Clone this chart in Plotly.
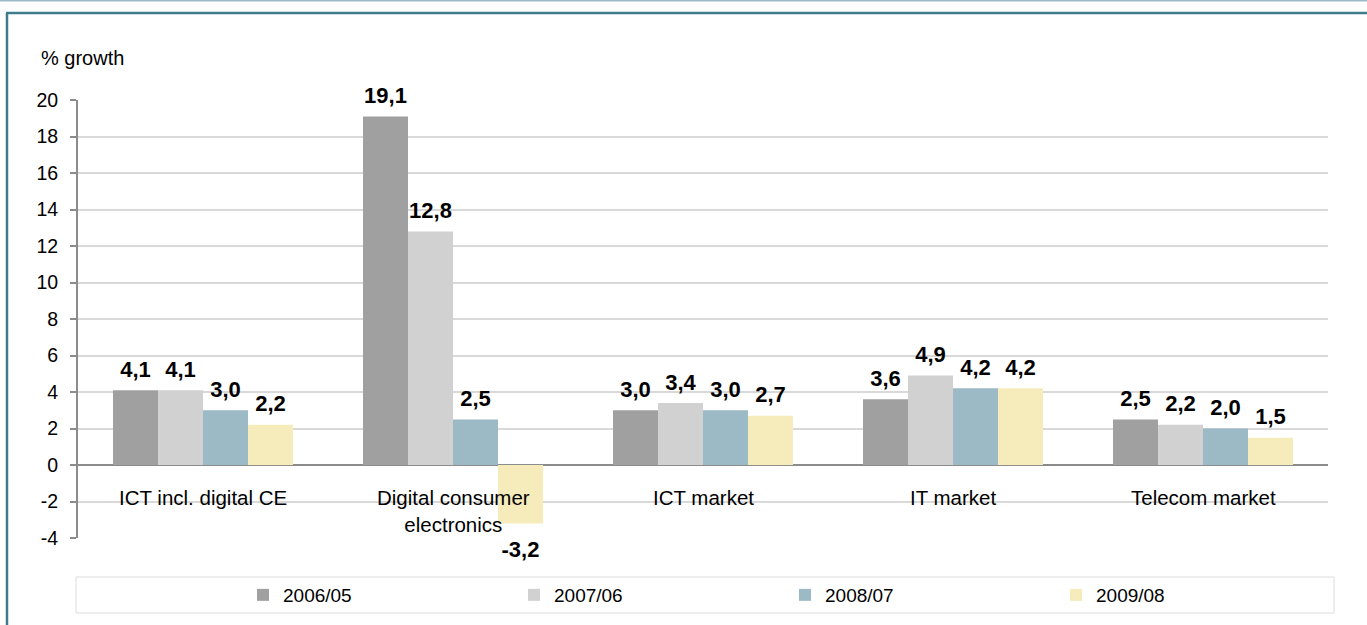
import plotly.graph_objects as go

categories = ["ICT incl. digital CE", "Digital consumer<br>electronics", "ICT market", "IT market", "Telecom market"]
series_names = ["2006/05", "2007/06", "2008/07", "2009/08"]
v_2006_05 = [4.1, 19.1, 3.0, 3.6, 2.5]
v_2007_06 = [4.1, 12.8, 3.4, 4.9, 2.2]
v_2008_07 = [3.0, 2.5, 3.0, 4.2, 2.0]
v_2009_08 = [2.2, -3.2, 2.7, 4.2, 1.5]
y_ticks = [-4, -2, 0, 2, 4, 6, 8, 10, 12, 14, 16, 18, 20]

colors = ["#A0A0A0", "#D1D1D1", "#9CBAC5", "#F5EBBB"]
series_values = [v_2006_05, v_2007_06, v_2008_07, v_2009_08]
FONT = "Liberation Sans, Arial, sans-serif"

W, H = 1367, 625
ML, MR, MT, MB = 78, 39, 100, 87
PW, PH = W - ML - MR, H - MT - MB


def px(x):
    return (x - ML) / PW


def py(y):
    return (H - MB - y) / PH


fig = go.Figure()
for name, vals, col in zip(series_names, series_values, colors):
    fig.add_trace(go.Bar(
        name=name, x=categories, y=vals, offsetgroup=name,
        marker=dict(color=col, line=dict(width=0)),
        hoverinfo="x+y",
    ))

# value labels (invisible markers give the gap between bar end and label)
for name, vals in zip(series_names, series_values):
    fig.add_trace(go.Scatter(
        x=categories, y=vals, offsetgroup=name, mode="markers+text",
        text=[f"{v:.1f}".replace(".", ",") for v in vals],
        textposition=["top center" if v >= 0 else "bottom center" for v in vals],
        marker=dict(size=[11 if v >= 0 else 26 for v in vals], opacity=0),
        textfont=dict(family=FONT, size=22, color="black", weight="bold"),
        showlegend=False, hoverinfo="skip", cliponaxis=False,
    ))

# category labels placed just below zero line
for c in categories:
    fig.add_annotation(x=c, y=-1.05, xref="x", yref="y", text=c, showarrow=False,
                       yanchor="top", xanchor="center",
                       font=dict(family=FONT, size=20.5, color="black"))

fig.add_annotation(x=px(39), y=py(58), xref="paper", yref="paper", text="% growth",
                   showarrow=False, xanchor="left", yanchor="middle",
                   font=dict(family=FONT, size=20, color="black"))

shapes = [
    # legend box
    dict(type="rect", xref="paper", yref="paper", x0=px(76), x1=px(1334), y0=py(613), y1=py(577),
         line=dict(color="#DDDDDD", width=1), fillcolor="rgba(0,0,0,0)", layer="below"),
    # outer frame
    dict(type="line", xref="paper", yref="paper", x0=px(0), x1=px(1370), y0=py(0.5), y1=py(0.5),
         line=dict(color="#9CBAC5", width=2)),
    dict(type="line", xref="paper", yref="paper", x0=px(6), x1=px(1370), y0=py(13), y1=py(13),
         line=dict(color="#3E7B8B", width=2.5)),
    dict(type="line", xref="paper", yref="paper", x0=px(7), x1=px(7), y0=py(13), y1=py(630),
         line=dict(color="#3E7B8B", width=2.5)),
]

fig.update_layout(
    width=W, height=H,
    margin=dict(l=ML, r=MR, t=MT, b=MB, autoexpand=False),
    paper_bgcolor="white", plot_bgcolor="white",
    barmode="group", bargap=0.28, bargroupgap=0,
    scattermode="group", scattergap=0.28,
    font=dict(family=FONT, size=19, color="black"),
    shapes=shapes,
    showlegend=True,
    legend=dict(orientation="h", x=px(243), xanchor="left", y=py(595), yanchor="middle",
                entrywidth=226, entrywidthmode="pixels", bgcolor="rgba(0,0,0,0)",
                font=dict(family=FONT, size=19, color="black"), traceorder="normal"),
    xaxis=dict(showticklabels=False, showgrid=False, showline=False, ticks="", zeroline=False),
    yaxis=dict(range=[-4, 20], tickvals=y_ticks, ticktext=[str(t) for t in y_ticks],
               showgrid=True, gridcolor="#D9D9D9", gridwidth=1.5,
               zeroline=True, zerolinecolor="#8C8C8C", zerolinewidth=2,
               showline=True, linecolor="#8C8C8C", linewidth=2,
               ticks="outside", ticklen=6, tickcolor="#8C8C8C", tickwidth=1.5,
               ticklabelstandoff=8,
               tickfont=dict(family=FONT, size=19.5, color="black")),
)

fig.write_html("out.html")
